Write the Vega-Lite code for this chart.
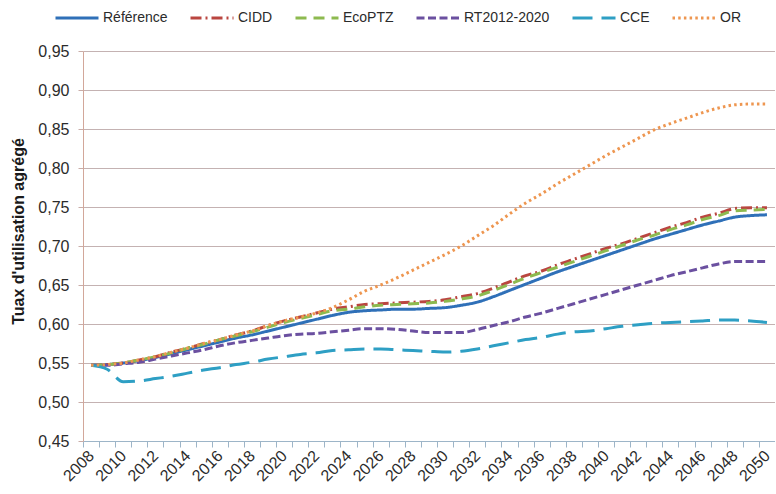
{
  "$schema": "https://vega.github.io/schema/vega-lite/v6.json",
  "width": 692,
  "height": 390,
  "autosize": {"type": "none"},
  "padding": {"left": 83, "top": 51, "right": 0, "bottom": 53},
  "background": "white",
  "config": {
    "view": {"stroke": null},
    "font": "Liberation Sans"
  },
  "data": {
    "values": [
      {"year": 2008, "Référence": 0.547, "CIDD": 0.547, "EcoPTZ": 0.547, "RT2012-2020": 0.547, "CCE": 0.547, "OR": 0.547},
      {"year": 2009, "Référence": 0.548, "CIDD": 0.548, "EcoPTZ": 0.548, "RT2012-2020": 0.547, "CCE": 0.542, "OR": 0.548},
      {"year": 2010, "Référence": 0.550, "CIDD": 0.550, "EcoPTZ": 0.550, "RT2012-2020": 0.549, "CCE": 0.526, "OR": 0.550},
      {"year": 2011, "Référence": 0.553, "CIDD": 0.554, "EcoPTZ": 0.554, "RT2012-2020": 0.551, "CCE": 0.527, "OR": 0.554},
      {"year": 2012, "Référence": 0.557, "CIDD": 0.558, "EcoPTZ": 0.558, "RT2012-2020": 0.555, "CCE": 0.530, "OR": 0.558},
      {"year": 2013, "Référence": 0.562, "CIDD": 0.564, "EcoPTZ": 0.563, "RT2012-2020": 0.559, "CCE": 0.533, "OR": 0.564},
      {"year": 2014, "Référence": 0.567, "CIDD": 0.569, "EcoPTZ": 0.569, "RT2012-2020": 0.563, "CCE": 0.537, "OR": 0.569},
      {"year": 2015, "Référence": 0.572, "CIDD": 0.575, "EcoPTZ": 0.574, "RT2012-2020": 0.567, "CCE": 0.541, "OR": 0.575},
      {"year": 2016, "Référence": 0.577, "CIDD": 0.580, "EcoPTZ": 0.580, "RT2012-2020": 0.572, "CCE": 0.544, "OR": 0.580},
      {"year": 2017, "Référence": 0.582, "CIDD": 0.586, "EcoPTZ": 0.585, "RT2012-2020": 0.576, "CCE": 0.548, "OR": 0.586},
      {"year": 2018, "Référence": 0.586, "CIDD": 0.591, "EcoPTZ": 0.590, "RT2012-2020": 0.579, "CCE": 0.551, "OR": 0.591},
      {"year": 2019, "Référence": 0.591, "CIDD": 0.598, "EcoPTZ": 0.596, "RT2012-2020": 0.582, "CCE": 0.555, "OR": 0.598},
      {"year": 2020, "Référence": 0.596, "CIDD": 0.604, "EcoPTZ": 0.602, "RT2012-2020": 0.585, "CCE": 0.558, "OR": 0.604},
      {"year": 2021, "Référence": 0.601, "CIDD": 0.609, "EcoPTZ": 0.607, "RT2012-2020": 0.587, "CCE": 0.561, "OR": 0.609},
      {"year": 2022, "Référence": 0.606, "CIDD": 0.614, "EcoPTZ": 0.612, "RT2012-2020": 0.588, "CCE": 0.563, "OR": 0.614},
      {"year": 2023, "Référence": 0.611, "CIDD": 0.619, "EcoPTZ": 0.617, "RT2012-2020": 0.590, "CCE": 0.566, "OR": 0.621},
      {"year": 2024, "Référence": 0.615, "CIDD": 0.622, "EcoPTZ": 0.619, "RT2012-2020": 0.592, "CCE": 0.567, "OR": 0.631},
      {"year": 2025, "Référence": 0.617, "CIDD": 0.625, "EcoPTZ": 0.622, "RT2012-2020": 0.594, "CCE": 0.568, "OR": 0.642},
      {"year": 2026, "Référence": 0.618, "CIDD": 0.626, "EcoPTZ": 0.624, "RT2012-2020": 0.594, "CCE": 0.568, "OR": 0.650},
      {"year": 2027, "Référence": 0.619, "CIDD": 0.627, "EcoPTZ": 0.625, "RT2012-2020": 0.593, "CCE": 0.567, "OR": 0.659},
      {"year": 2028, "Référence": 0.619, "CIDD": 0.628, "EcoPTZ": 0.626, "RT2012-2020": 0.591, "CCE": 0.566, "OR": 0.669},
      {"year": 2029, "Référence": 0.620, "CIDD": 0.629, "EcoPTZ": 0.627, "RT2012-2020": 0.589, "CCE": 0.565, "OR": 0.679},
      {"year": 2030, "Référence": 0.621, "CIDD": 0.631, "EcoPTZ": 0.629, "RT2012-2020": 0.589, "CCE": 0.564, "OR": 0.689},
      {"year": 2031, "Référence": 0.624, "CIDD": 0.635, "EcoPTZ": 0.632, "RT2012-2020": 0.589, "CCE": 0.565, "OR": 0.700},
      {"year": 2032, "Référence": 0.628, "CIDD": 0.639, "EcoPTZ": 0.636, "RT2012-2020": 0.593, "CCE": 0.568, "OR": 0.713},
      {"year": 2033, "Référence": 0.635, "CIDD": 0.646, "EcoPTZ": 0.643, "RT2012-2020": 0.598, "CCE": 0.572, "OR": 0.726},
      {"year": 2034, "Référence": 0.643, "CIDD": 0.654, "EcoPTZ": 0.651, "RT2012-2020": 0.603, "CCE": 0.576, "OR": 0.741},
      {"year": 2035, "Référence": 0.651, "CIDD": 0.662, "EcoPTZ": 0.659, "RT2012-2020": 0.609, "CCE": 0.580, "OR": 0.755},
      {"year": 2036, "Référence": 0.659, "CIDD": 0.668, "EcoPTZ": 0.666, "RT2012-2020": 0.614, "CCE": 0.583, "OR": 0.767},
      {"year": 2037, "Référence": 0.667, "CIDD": 0.676, "EcoPTZ": 0.673, "RT2012-2020": 0.620, "CCE": 0.587, "OR": 0.780},
      {"year": 2038, "Référence": 0.674, "CIDD": 0.683, "EcoPTZ": 0.680, "RT2012-2020": 0.626, "CCE": 0.590, "OR": 0.792},
      {"year": 2039, "Référence": 0.681, "CIDD": 0.690, "EcoPTZ": 0.687, "RT2012-2020": 0.632, "CCE": 0.591, "OR": 0.804},
      {"year": 2040, "Référence": 0.688, "CIDD": 0.697, "EcoPTZ": 0.694, "RT2012-2020": 0.638, "CCE": 0.594, "OR": 0.816},
      {"year": 2041, "Référence": 0.695, "CIDD": 0.703, "EcoPTZ": 0.701, "RT2012-2020": 0.644, "CCE": 0.597, "OR": 0.827},
      {"year": 2042, "Référence": 0.702, "CIDD": 0.710, "EcoPTZ": 0.708, "RT2012-2020": 0.650, "CCE": 0.599, "OR": 0.838},
      {"year": 2043, "Référence": 0.709, "CIDD": 0.717, "EcoPTZ": 0.714, "RT2012-2020": 0.656, "CCE": 0.601, "OR": 0.849},
      {"year": 2044, "Référence": 0.715, "CIDD": 0.724, "EcoPTZ": 0.721, "RT2012-2020": 0.662, "CCE": 0.602, "OR": 0.857},
      {"year": 2045, "Référence": 0.721, "CIDD": 0.730, "EcoPTZ": 0.727, "RT2012-2020": 0.667, "CCE": 0.603, "OR": 0.864},
      {"year": 2046, "Référence": 0.727, "CIDD": 0.737, "EcoPTZ": 0.734, "RT2012-2020": 0.672, "CCE": 0.604, "OR": 0.871},
      {"year": 2047, "Référence": 0.732, "CIDD": 0.742, "EcoPTZ": 0.739, "RT2012-2020": 0.677, "CCE": 0.605, "OR": 0.877},
      {"year": 2048, "Référence": 0.737, "CIDD": 0.748, "EcoPTZ": 0.745, "RT2012-2020": 0.680, "CCE": 0.605, "OR": 0.881},
      {"year": 2049, "Référence": 0.739, "CIDD": 0.749, "EcoPTZ": 0.746, "RT2012-2020": 0.680, "CCE": 0.604, "OR": 0.882},
      {"year": 2050, "Référence": 0.740, "CIDD": 0.749, "EcoPTZ": 0.747, "RT2012-2020": 0.680, "CCE": 0.602, "OR": 0.882}
    ]
  },
  "transform": [
    {"fold": ["Référence", "CIDD", "EcoPTZ", "RT2012-2020", "CCE", "OR"], "as": ["series", "value"]}
  ],
  "mark": {"type": "line", "strokeWidth": 3, "interpolate": "monotone", "strokeCap": "butt"},
  "encoding": {
    "x": {
      "field": "year",
      "type": "quantitative",
      "scale": {"domain": [2007.5, 2050.5], "nice": false, "zero": false},
      "axis": {
        "title": null,
        "grid": false,
        "values": [2007.5, 2008.5, 2009.5, 2010.5, 2011.5, 2012.5, 2013.5, 2014.5, 2015.5, 2016.5, 2017.5, 2018.5, 2019.5, 2020.5, 2021.5, 2022.5, 2023.5, 2024.5, 2025.5, 2026.5, 2027.5, 2028.5, 2029.5, 2030.5, 2031.5, 2032.5, 2033.5, 2034.5, 2035.5, 2036.5, 2037.5, 2038.5, 2039.5, 2040.5, 2041.5, 2042.5, 2043.5, 2044.5, 2045.5, 2046.5, 2047.5, 2048.5, 2049.5, 2050.5],
        "labelExpr": "(datum.value + 0.5) % 2 == 0 && datum.value < 2050 ? toString(datum.value + 0.5) : ''",
        "labelOffset": 8,
        "labelAngle": -45,
        "labelAlign": "right",
        "labelBaseline": "middle",
        "labelPadding": 6,
        "labelFontSize": 16,
        "labelColor": "#2b2b2b",
        "labelOverlap": false,
        "labelFlush": false,
        "labelBound": false,
        "tickSize": 6,
        "tickColor": "#9DB5C8",
        "domainColor": "#9DB5C8",
        "domainWidth": 1
      }
    },
    "y": {
      "field": "value",
      "type": "quantitative",
      "scale": {"domain": [0.45, 0.95], "nice": false, "zero": false},
      "axis": {
        "title": "Tuax d'utilisation agrégé",
        "titleFontSize": 16,
        "titleFontWeight": "bold",
        "titleColor": "#1a1a1a",
        "titleAngle": -90,
        "titleX": -65,
        "titleY": 180,
        "titleBaseline": "middle",
        "titleAlign": "center",
        "values": [0.45, 0.5, 0.55, 0.6, 0.65, 0.7, 0.75, 0.8, 0.85, 0.9, 0.95],
        "labelExpr": "replace(format(datum.value, '.2f'), '.', ',')",
        "labelFontSize": 16,
        "labelColor": "#2b2b2b",
        "labelPadding": 9,
        "tickSize": 5,
        "tickColor": "#C9ADA8",
        "domainColor": "#D2A79A",
        "grid": true,
        "gridColor": "#C4B2B2",
        "gridWidth": 1
      }
    },
    "color": {
      "field": "series",
      "type": "nominal",
      "scale": {
        "domain": ["Référence", "CIDD", "EcoPTZ", "RT2012-2020", "CCE", "OR"],
        "range": ["#2F70B8", "#BA4640", "#8DBA4F", "#6B50A0", "#2E9FC4", "#EE9650"]
      },
      "legend": {
        "title": null,
        "orient": "none",
        "direction": "horizontal",
        "legendX": -29,
        "legendY": -56,
        "symbolType": "stroke",
        "symbolSize": 1849,
        "symbolStrokeWidth": 3,
        "labelFontSize": 14,
        "labelColor": "#2b2b2b",
        "labelOffset": 3,
        "columnPadding": 16,
        "gridAlign": "none"
      }
    },
    "strokeDash": {
      "field": "series",
      "type": "nominal",
      "scale": {
        "domain": ["Référence", "CIDD", "EcoPTZ", "RT2012-2020", "CCE", "OR"],
        "range": [[1, 0], [11, 4, 2, 4], [11, 7], [8, 3.5], [20, 9], [2.5, 3.2]]
      },
      "legend": {
        "title": null,
        "orient": "none",
        "direction": "horizontal",
        "legendX": -29,
        "legendY": -56,
        "symbolType": "stroke",
        "symbolSize": 1849,
        "symbolStrokeWidth": 3,
        "labelFontSize": 14,
        "labelColor": "#2b2b2b",
        "labelOffset": 3,
        "columnPadding": 16,
        "gridAlign": "none"
      }
    }
  }
}
